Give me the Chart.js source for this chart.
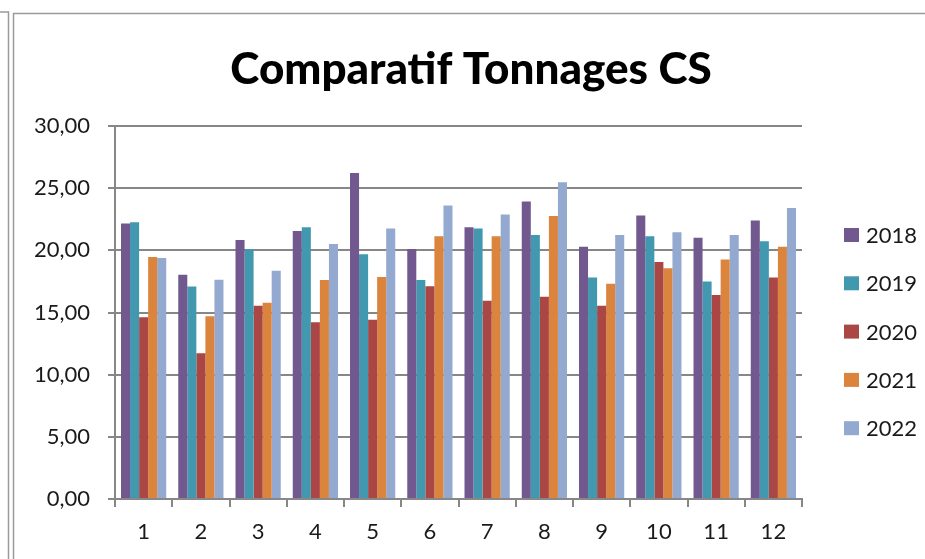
<!DOCTYPE html>
<html>
<head>
<meta charset="utf-8">
<script src="https://cdn.jsdelivr.net/npm/chart.js@4.4.1/dist/chart.umd.min.js"></script>
<style>
  html, body { margin: 0; padding: 0; background: #ffffff; }
  #wrap { width: 925px; height: 559px; }
</style>
</head>
<body>
<div id="wrap"><canvas id="c" width="925" height="559"></canvas></div>
<script>
const titleText = "Comparatif Tonnages CS";
const categories = ["1","2","3","4","5","6","7","8","9","10","11","12"];
const seriesNames = ["2018","2019","2020","2021","2022"];
const values2018 = [22.15, 18.04, 20.83, 21.56, 26.21, 20.11, 21.85, 23.92, 20.29, 22.80, 21.02, 22.39];
const values2019 = [22.26, 17.10, 20.10, 21.85, 19.68, 17.61, 21.75, 21.24, 17.82, 21.13, 17.50, 20.73];
const values2020 = [14.62, 11.72, 15.54, 14.22, 14.41, 17.12, 15.94, 16.26, 15.54, 19.06, 16.40, 17.82];
const values2021 = [19.46, 14.70, 15.78, 17.61, 17.85, 21.13, 21.13, 22.77, 17.31, 18.55, 19.27, 20.29];
const values2022 = [19.38, 17.63, 18.36, 20.51, 21.75, 23.60, 22.88, 25.48, 21.24, 21.45, 21.24, 23.41];
const yTickValues = [0, 5, 10, 15, 20, 25, 30];

const seriesValues = [values2018, values2019, values2020, values2021, values2022];
const seriesColors = ["#71588F", "#4198AF", "#AA4643", "#DB843D", "#93A9CF"];

const FONT = "Lato, 'Open Sans', 'Liberation Sans', sans-serif";
const GRID = "#878787";

const framePlugin = {
  id: 'frame',
  beforeDraw(chart) {
    const ctx = chart.ctx;
    ctx.save();
    ctx.fillStyle = '#ffffff';
    ctx.fillRect(0, 0, chart.width, chart.height);
    ctx.strokeStyle = '#9a9a9a';
    ctx.lineWidth = 1.5;
    ctx.beginPath();
    ctx.moveTo(0, 12); ctx.lineTo(8.5, 12); ctx.lineTo(8.5, chart.height);
    ctx.moveTo(13.5, chart.height); ctx.lineTo(13.5, 13.5); ctx.lineTo(chart.width, 13.5);
    ctx.stroke();
    ctx.restore();
  }
};

const legendPlugin = {
  id: 'sideLegend',
  afterDraw(chart) {
    const ctx = chart.ctx;
    ctx.save();
    ctx.font = "22px " + FONT;
    ctx.textBaseline = 'middle';
    ctx.textAlign = 'left';
    chart.data.datasets.forEach((ds, i) => {
      const cy = 235 + i * 48.3;
      ctx.fillStyle = ds.backgroundColor;
      ctx.fillRect(844, cy - 7, 15, 14);
      ctx.fillStyle = '#1a1a1a';
      ctx.fillText(ds.label, 866, cy + 1);
    });
    ctx.restore();
  }
};

new Chart(document.getElementById('c'), {
  type: 'bar',
  data: {
    labels: categories,
    datasets: seriesNames.map((name, i) => ({
      label: name,
      data: seriesValues[i],
      backgroundColor: seriesColors[i],
      borderWidth: 0,
      categoryPercentage: 0.79,
      barPercentage: 1.0
    }))
  },
  options: {
    responsive: false,
    devicePixelRatio: 1,
    animation: false,
    layout: { padding: { left: 17, right: 0, top: 0, bottom: 1.6 } },
    plugins: {
      legend: { display: false },
      tooltip: { enabled: false },
      title: {
        display: true,
        text: titleText,
        color: '#000000',
        font: { family: FONT, size: 44, weight: '900', lineHeight: 1.2 },
        padding: { top: 43, bottom: 30.2 }
      }
    },
    scales: {
      x: {
        grid: { display: true, drawOnChartArea: false, drawTicks: true, tickLength: 8, offset: true, color: GRID, lineWidth: 2 },
        border: { display: true, color: GRID, width: 2 },
        ticks: { color: '#1a1a1a', padding: 12, font: { family: FONT, size: 22 }, maxRotation: 0, autoSkip: false }
      },
      y: {
        min: 0,
        max: 30,
        afterFit(scale) { scale.width = 98; },
        afterBuildTicks(scale) { scale.ticks = yTickValues.map(v => ({ value: v })); },
        grid: { color: GRID, lineWidth: 2, tickLength: 7, drawTicks: true },
        border: { display: true, color: GRID, width: 2 },
        ticks: {
          color: '#1a1a1a',
          padding: 18,
          font: { family: FONT, size: 22 },
          callback: (v) => Number(v).toFixed(2).replace('.', ',')
        }
      },
      legendSpace: {
        type: 'linear',
        position: 'right',
        display: true,
        afterFit(scale) { scale.width = 123; },
        grid: { display: false },
        border: { display: false },
        ticks: { display: false }
      }
    }
  },
  plugins: [framePlugin, legendPlugin]
});
</script>
</body>
</html>
